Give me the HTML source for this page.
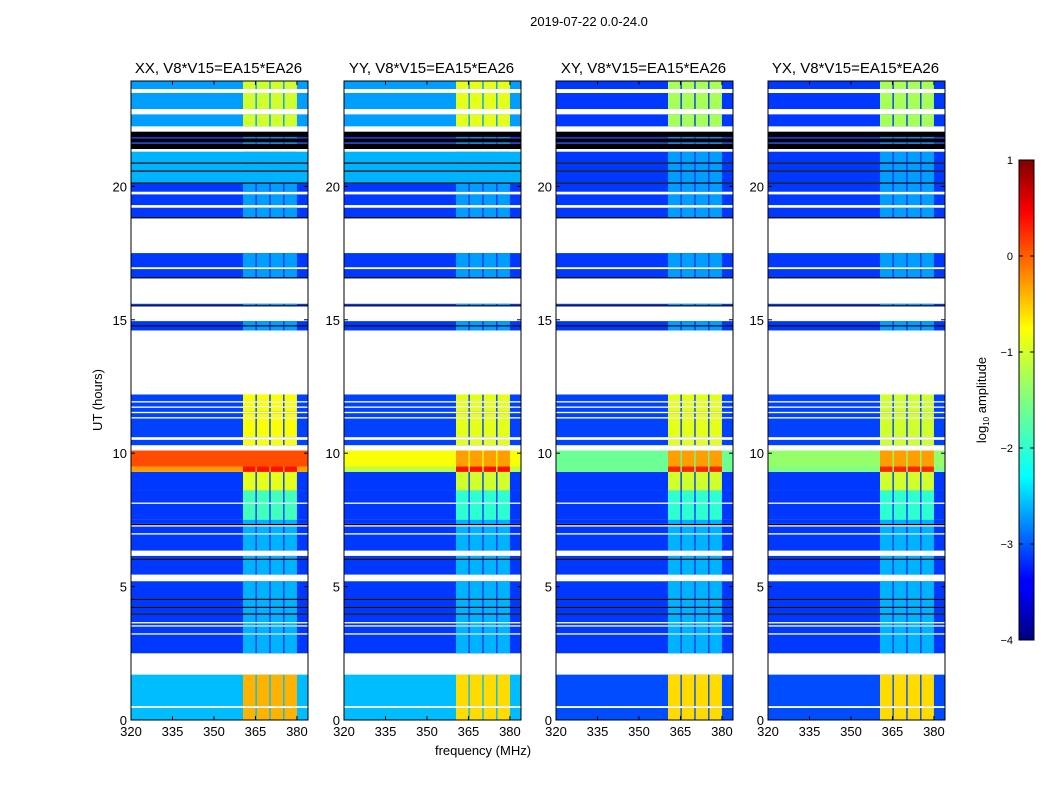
<!DOCTYPE html>
<html><head><meta charset="utf-8"><style>
body{margin:0;background:#fff;}
svg{font-family:"Liberation Sans","DejaVu Sans",sans-serif;}
</style></head><body>
<svg id="fig" width="1050" height="800" viewBox="0 0 1050 800" xmlns="http://www.w3.org/2000/svg">
<defs>
<linearGradient id="jet" x1="0" y1="1" x2="0" y2="0">
<stop offset="0" stop-color="#00007f"/><stop offset="0.11" stop-color="#0000ff"/><stop offset="0.125" stop-color="#0000ff"/>
<stop offset="0.34" stop-color="#00ffff"/><stop offset="0.5" stop-color="#7fff7f"/><stop offset="0.65" stop-color="#ffff00"/>
<stop offset="0.89" stop-color="#ff0000"/><stop offset="1" stop-color="#7f0000"/>
</linearGradient>
</defs>
<text x="589" y="26" font-size="13" text-anchor="middle">2019-07-22 0.0-24.0</text>
<text x="483" y="755" font-size="13" text-anchor="middle">frequency (MHz)</text>
<text transform="translate(102,400) rotate(-90)" font-size="13" text-anchor="middle">UT (hours)</text>
<g id="panels"></g>
<g id="cbar"></g>
</svg>
<script>
// time mask segments: d=data, w=no data (white), k=black line
const segStart=[0,0.45,0.52,1.7,2.5,3.2,3.25,3.5,3.55,3.62,3.67,3.95,4.0,4.2,4.25,4.5,4.55,5.2,5.45,6.0,6.05,6.15,6.35,6.95,7.0,7.25,7.3,7.35,8.1,8.15,10.1,10.3,10.5,10.6,11.3,11.35,11.5,11.55,11.7,11.75,11.9,11.95,12.2,14.6,14.75,14.8,14.95,15.5,15.55,15.6,16.55,16.6,16.9,16.97,17.5,18.8,18.85,19.2,19.3,19.7,19.8,20.1,20.15,20.55,20.6,20.85,20.9,21.3,21.4,21.6,21.65,21.8,21.85,22.05,22.25,22.7,22.9,23.5,23.65];
const segEnd=  [0.45,0.52,1.7,2.5,3.2,3.25,3.5,3.55,3.62,3.67,3.95,4.0,4.2,4.25,4.5,4.55,5.2,5.45,6.0,6.05,6.15,6.35,6.95,7.0,7.25,7.3,7.35,8.1,8.15,10.1,10.3,10.5,10.6,11.3,11.35,11.5,11.55,11.7,11.75,11.9,11.95,12.2,14.6,14.75,14.8,14.95,15.5,15.55,15.6,16.55,16.6,16.9,16.97,17.5,18.8,18.85,19.2,19.3,19.7,19.8,20.1,20.15,20.55,20.6,20.85,20.9,21.3,21.4,21.6,21.65,21.8,21.85,22.05,22.25,22.7,22.9,23.5,23.65,23.95];
const segKind=['d','w','d','w','d','w','d','w','d','w','d','k','d','k','d','k','d','w','d','k','d','w','d','w','d','w','k','d','w','d','w','d','w','d','w','d','w','d','w','d','w','d','w','d','k','d','w','k','d','w','k','d','w','d','w','k','d','w','d','w','d','k','d','k','d','k','d','w','k','d','k','d','k','w','d','w','d','w','d'];
// amplitude zones (log10 amplitude), per panel XX,YY,XY,YX
const zoneStart=[0,1.7,7.5,8.6,9.3,9.5,10.1,12.2,20.15,21.3,22.25];
const zoneEnd=[1.7,7.5,8.6,9.3,9.5,10.1,12.2,20.15,21.3,22.25,24];
const bgXX=[-2.45,-3.1,-3.1,-3.1,-0.4,0.0,-3.05,-3.1,-2.5,-3.1,-2.6];
const bgYY=[-2.45,-3.1,-3.1,-3.1,-1.2,-0.9,-3.05,-3.1,-2.5,-3.1,-2.6];
const bgXY=[-3.0,-3.1,-3.1,-3.1,-1.6,-1.6,-3.05,-3.1,-3.1,-3.1,-3.1];
const bgYX=[-3.0,-3.1,-3.1,-3.1,-1.5,-1.4,-3.05,-3.1,-3.1,-3.1,-3.1];
const rfiXX=[-0.5,-2.5,-1.8,-1.0,0.3,0.0,-0.9,-2.6,-2.5,-2.6,-1.1];
const rfiYY=[-0.7,-2.5,-1.9,-1.1,0.3,-0.4,-1.0,-2.6,-2.5,-2.6,-1.0];
const rfiXY=[-0.7,-2.5,-1.9,-1.1,0.2,-0.4,-1.0,-2.6,-2.6,-2.6,-1.3];
const rfiYX=[-0.7,-2.5,-1.9,-1.1,0.2,-0.4,-1.1,-2.6,-2.6,-2.6,-1.3];
// RFI frequency bands (MHz)
const bandLo=[360.5,365.5,370.5,375.5];
const bandHi=[365,370,375,380];
const titles=['XX, V8*V15=EA15*EA26','YY, V8*V15=EA15*EA26','XY, V8*V15=EA15*EA26','YX, V8*V15=EA15*EA26'];
const xTicks=[320,335,350,365,380];
const yTicks=[0,5,10,15,20];
const cbTicks=[1,0,-1,-2,-3,-4];

const NS='http://www.w3.org/2000/svg';
const panelX=[131,344,556,768], panelW=177, yTop=81, yBot=720;
const fMin=320, fMax=384, tMin=0, tMax=23.95;
function jet(v){let t=(v+4)/5;t=Math.max(0,Math.min(1,t));
 const c=x=>Math.round(255*Math.max(0,Math.min(1,1.5-Math.abs(4*t-x))));
 return `rgb(${c(3)},${c(2)},${c(1)})`;}
function el(tag,attrs,parent){const e=document.createElementNS(NS,tag);for(const k in attrs)e.setAttribute(k,attrs[k]);parent.appendChild(e);return e;}
const bgs=[bgXX,bgYY,bgXY,bgYX], rfis=[rfiXX,rfiYY,rfiXY,rfiYX];
const P=document.getElementById('panels');
panelX.forEach((px,p)=>{
 const sx=f=>px+(f-fMin)/(fMax-fMin)*panelW;
 const sy=t=>yBot-(t-tMin)/(tMax-tMin)*(yBot-yTop);
 const g=el('g',{},P);
 
 
 for(let i=0;i<segStart.length;i++){
  if(segKind[i]==='w')continue;
  if(segKind[i]==='k'){const r=el('rect',{x:px,y:sy(segEnd[i]),width:panelW,height:Math.max(1,sy(segStart[i])-sy(segEnd[i])),fill:'#000'},g);
   continue;}
  for(let z=0;z<zoneStart.length;z++){
   const a=Math.max(segStart[i],zoneStart[z]), b=Math.min(segEnd[i],zoneEnd[z]);
   if(b<=a)continue;
   const y0=sy(b),h=sy(a)-sy(b);
   const r=el('rect',{x:px,y:y0,width:panelW,height:h,fill:jet(bgs[p][z])},g);
   
   for(let k=0;k<bandLo.length;k++){
    const rb=el('rect',{x:sx(bandLo[k]),y:y0,width:sx(bandHi[k])-sx(bandLo[k]),height:h,fill:jet(Math.max(bgs[p][z],rfis[p][z]))},g);
    
   }
  }
 }
 el('rect',{x:px,y:yTop,width:panelW,height:yBot-yTop,fill:'none',stroke:'#000','stroke-width':1},g);
 const t=el('text',{x:px+panelW/2-1,y:73,'font-size':15,'text-anchor':'middle'},g);t.textContent=titles[p];
 
 xTicks.forEach(f=>{const x=sx(f);
  el('line',{x1:x,x2:x,y1:yBot,y2:yBot-4,stroke:'#000'},g);el('line',{x1:x,x2:x,y1:yTop,y2:yTop+4,stroke:'#000'},g);
  const l=el('text',{x:x,y:yBot+16,'font-size':13,'text-anchor':'middle'},g);l.textContent=f;
  });
 yTicks.forEach(v=>{const y=sy(v);
  el('line',{x1:px,x2:px+4,y1:y,y2:y,stroke:'#000'},g);el('line',{x1:px+panelW,x2:px+panelW-4,y1:y,y2:y,stroke:'#000'},g);
  const l=el('text',{x:px-4,y:y+5,'font-size':13,'text-anchor':'end'},g);l.textContent=v;
  });
});
// colorbar
const C=document.getElementById('cbar');
const cbx=1019,cbw=15,cbt=160,cbb=640;
const cy=v=>cbb-(v+4)/5*(cbb-cbt);
const cr=el('rect',{x:cbx,y:cbt,width:cbw,height:cbb-cbt,fill:'url(#jet)',stroke:'#000'},C);

cbTicks.forEach(v=>{const y=cy(v);
 el('line',{x1:cbx,x2:cbx+4,y1:y,y2:y,stroke:'#000'},C);el('line',{x1:cbx+cbw,x2:cbx+cbw-4,y1:y,y2:y,stroke:'#000'},C);
 const l=el('text',{x:1013,y:y+4,'font-size':11,'text-anchor':'end'},C);l.textContent=(v<0?'\u2212'+(-v):v);
 });
const cl=el('text',{transform:'translate(986,400) rotate(-90)','font-size':13,'text-anchor':'middle'},C);
cl.innerHTML='log<tspan font-size="8" dy="3">10</tspan><tspan dy="-3"> amplitude</tspan>';

</script>
</body></html>
